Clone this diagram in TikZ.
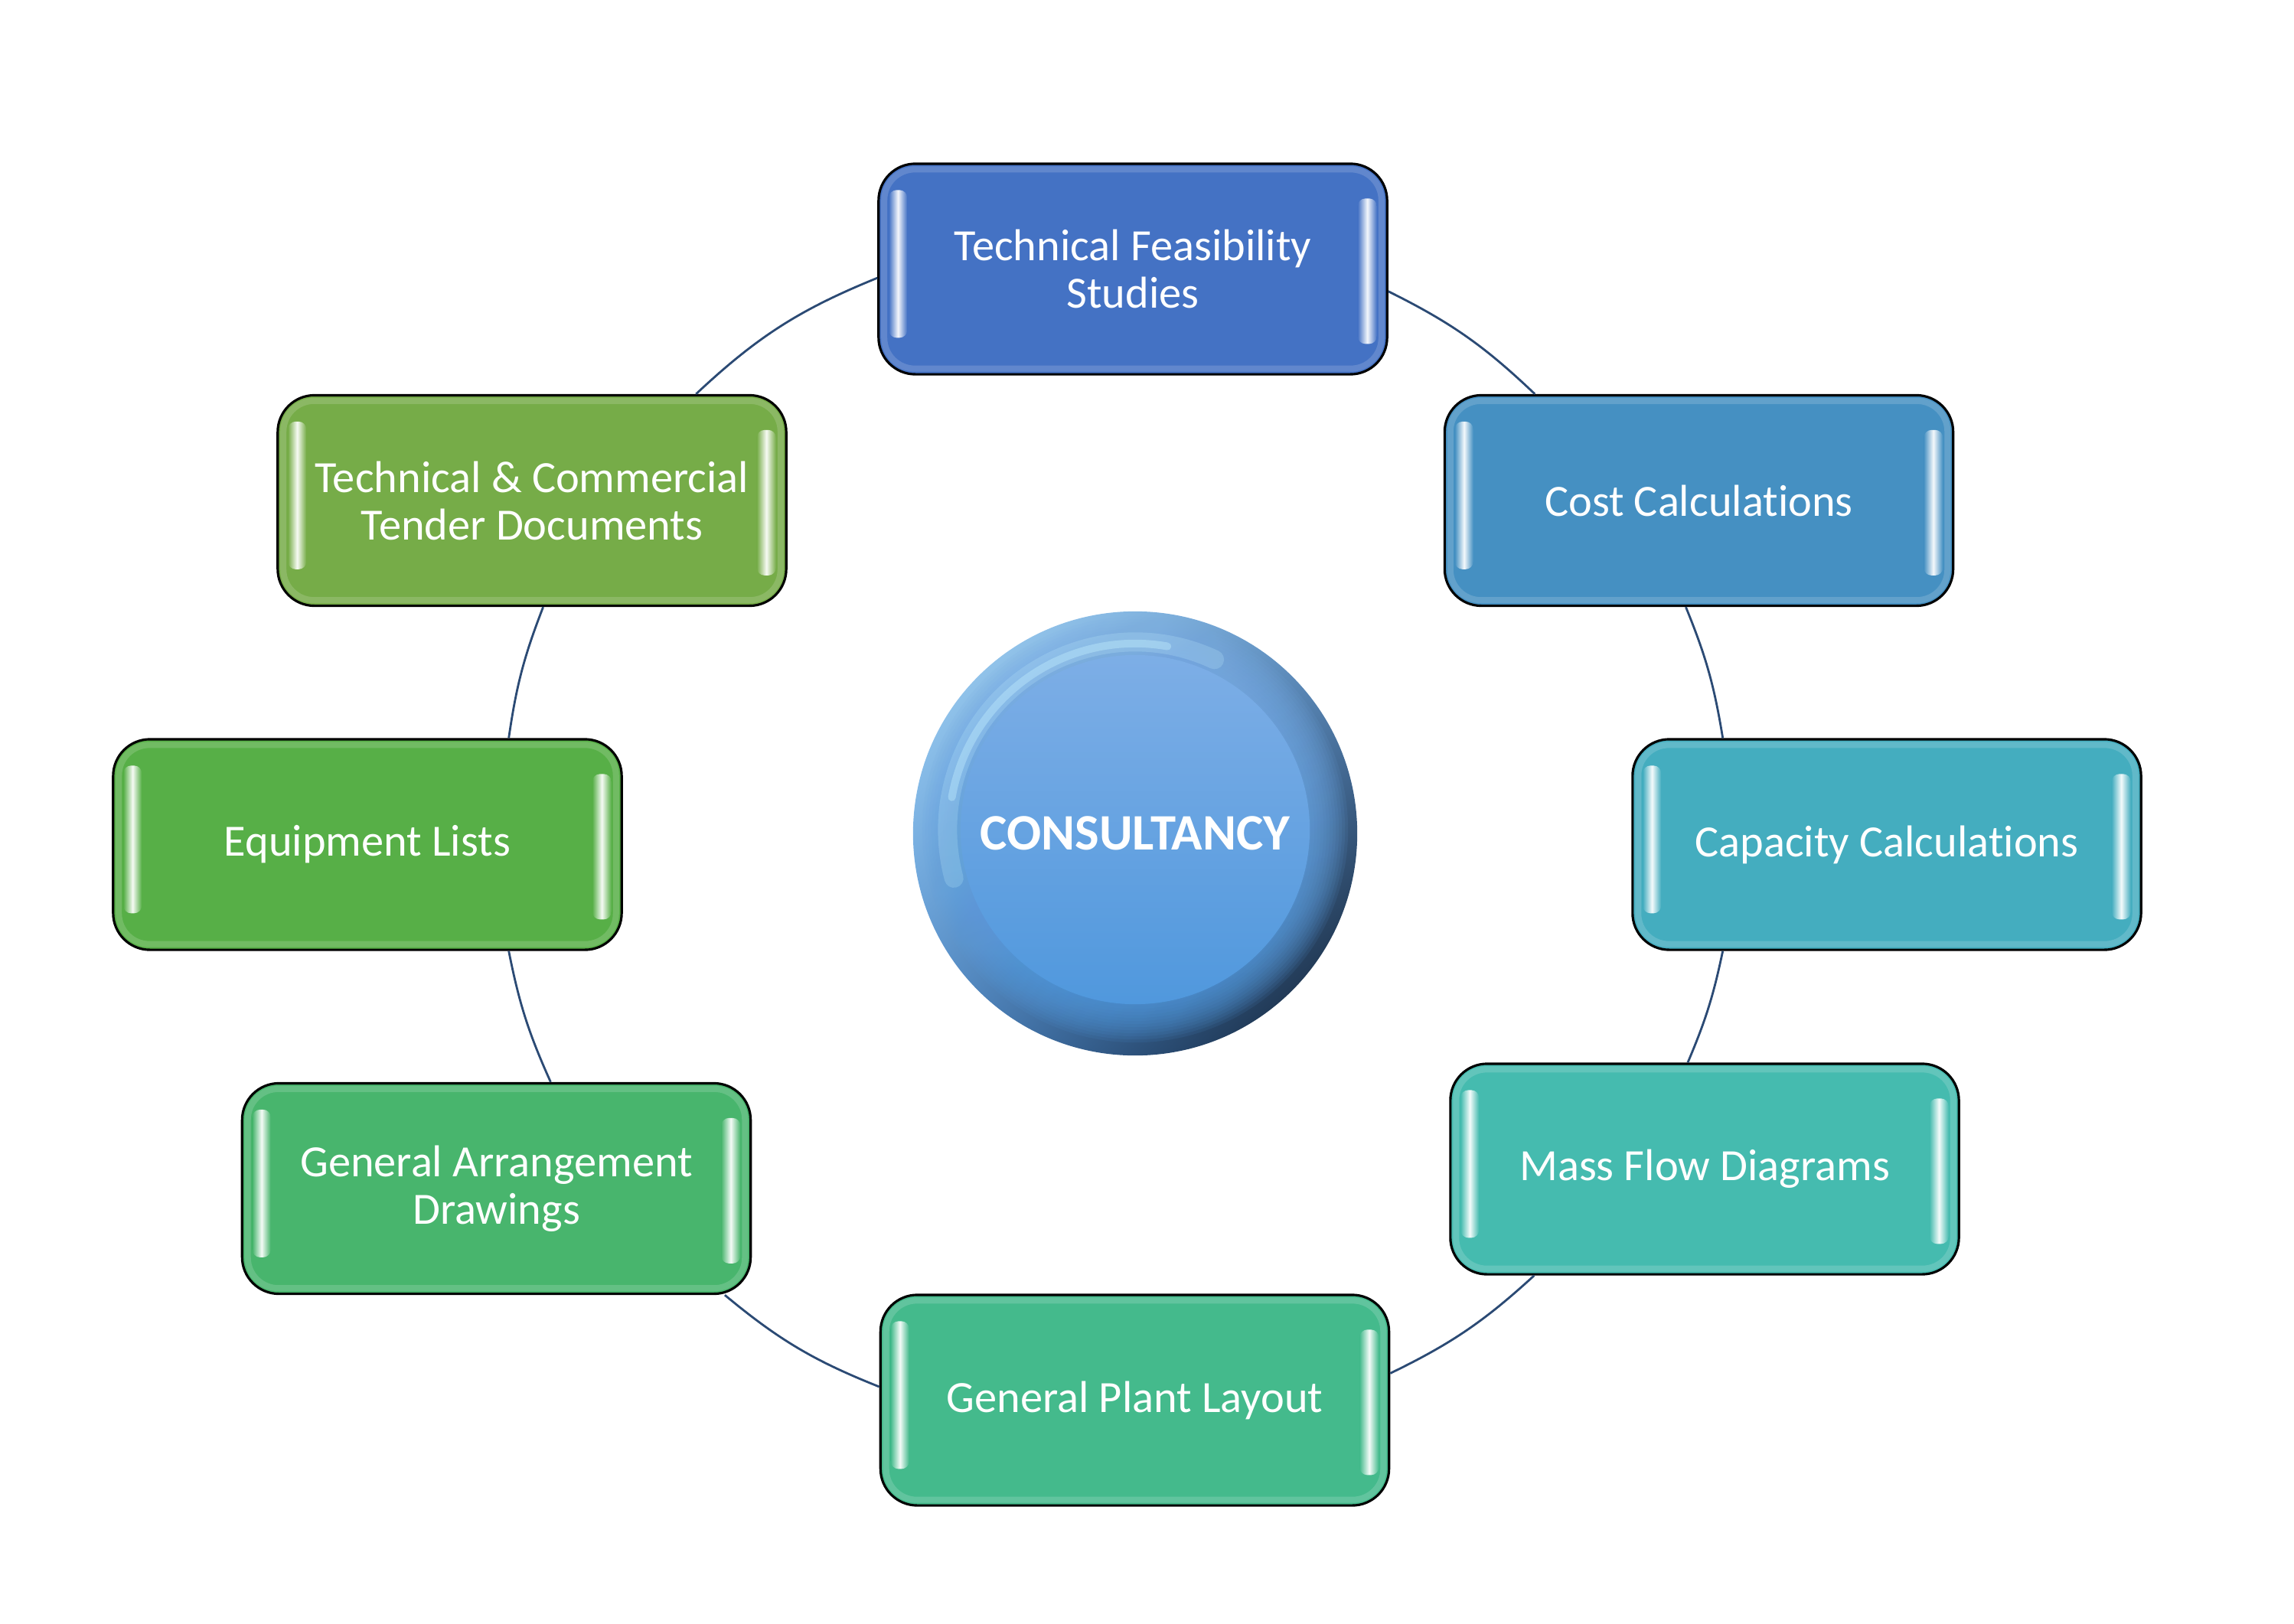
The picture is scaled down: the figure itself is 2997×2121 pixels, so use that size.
\documentclass[tikz,border=0pt]{standalone}
\usepackage{fontspec}
\setmainfont{Carlito}[Ligatures=NoCommon]
\usetikzlibrary{calc,shadings}

\definecolor{feascol}{HTML}{4472C4}
\definecolor{costcol}{HTML}{4590C2}
\definecolor{capcol}{HTML}{44ADBF}
\definecolor{masscol}{HTML}{45BBAF}
\definecolor{plantcol}{HTML}{44BA8C}
\definecolor{gadcol}{HTML}{48B56D}
\definecolor{equipcol}{HTML}{57AF47}
\definecolor{tendercol}{HTML}{76AC48}
\definecolor{linkcol}{HTML}{2B4A74}
\definecolor{hubhi}{HTML}{A9DAFB}
\definecolor{hubtr}{HTML}{5D90C6}
\definecolor{hubbl}{HTML}{4C88C9}
\definecolor{hubdark}{HTML}{0D1A2C}
\definecolor{hubtop}{HTML}{7DAEE6}
\definecolor{hubbot}{HTML}{5098DD}
\definecolor{hubglint}{HTML}{C4F0FF}

\newcommand\glossbars{}
\def\glossbars#1#2{
  \draw[color=#2!55!white, opacity=.35, line width=0.8mm, rounded corners=4mm]
    ($(#1.north west)+(9,9)$) rectangle ($(#1.south east)+(-9,-9)$);
  \shade[left color=#2, right color=#2, middle color=#2!6!white, rounded corners=1mm]
    ($(#1.north west)+(15,36)$) rectangle ($(#1.north west)+(39,229)$);
  \shade[left color=#2, right color=#2, middle color=#2!6!white, rounded corners=1mm]
    ($(#1.north east)+(-40,47)$) rectangle ($(#1.north east)+(-15,237)$);
}

\tikzset{
  stagebox/.style={rectangle, rounded corners=4.8mm, draw=black, line width=0.9pt,
    fill=#1, minimum width=6.64cm, minimum height=2.75cm, inner sep=0pt,
    text=white, align=center, font=\fontsize{16.6}{17.6}\selectfont},
  link/.style={draw=linkcol, line width=0.8pt},
  hubdisc/.style={circle, minimum size=5.8cm, inner sep=0pt, text=white,
    font=\fontsize{19}{21}\selectfont\bfseries,
    path picture={
      \shade[upper left=hubhi, upper right=hubtr, lower left=hubbl, lower right=hubdark]
        (path picture bounding box.south west) rectangle (path picture bounding box.north east);
      \foreach \r in {2.78,2.74,...,2.30}
        \shade[top color=hubtop, bottom color=hubbot, opacity=.11]
          ([yshift=.05cm]path picture bounding box.center) circle[radius=\r cm];
      \draw[color=hubglint, line width=2.5mm, opacity=.22, line cap=round]
        ([yshift=.05cm]path picture bounding box.center) ++(65:2.45cm)
        arc[start angle=65, end angle=195, radius=2.45cm];
      \draw[color=hubglint, line width=1mm, opacity=.4, line cap=round]
        ([yshift=.05cm]path picture bounding box.center) ++(80:2.43cm)
        arc[start angle=80, end angle=170, radius=2.43cm];
      \shade[top color=hubtop, bottom color=hubbot]
        ([yshift=.05cm]path picture bounding box.center) circle[radius=2.28cm];
    }}
}

\begin{document}
\begin{tikzpicture}[x=0.01cm, y=-0.01cm]

\useasboundingbox (0,0) rectangle (2997,2121);

% Service boxes round the hub
\node[stagebox=feascol] (feas) at (1480,351.5) {Technical Feasibility\\Studies};
\glossbars{feas}{feascol}
\node[stagebox=costcol] (cost) at (2219.5,654) {Cost Calculations};
\glossbars{cost}{costcol}
\node[stagebox=capcol] (cap) at (2465,1103.5) {Capacity Calculations};
\glossbars{cap}{capcol}
\node[stagebox=masscol] (mass) at (2227,1527.5) {Mass Flow Diagrams};
\glossbars{mass}{masscol}
\node[stagebox=plantcol] (plant) at (1482.5,1829.5) {General Plant Layout};
\glossbars{plant}{plantcol}
\node[stagebox=gadcol] (gad) at (648.5,1553) {General Arrangement\\Drawings};
\glossbars{gad}{gadcol}
\node[stagebox=equipcol] (equip) at (480,1103.5) {Equipment Lists};
\glossbars{equip}{equipcol}
\node[stagebox=tendercol] (tender) at (695,654) {Technical \& Commercial\\Tender Documents};
\glossbars{tender}{tendercol}

% Ring connectors
\foreach \from/\to/\bend in
{
  feas.-5.8/cost.147/8.6, cost.-97/cap.147/6.5, cap.-147/mass.99/5.6,
  mass.-148.6/plant.6.5/8.3, plant.177.5/gad.-25.4/9, gad.63/equip.-37/6.5,
  equip.37.6/tender.-84/6.5, tender.33/feas.182/10.5
}
{
  \draw[link] (\from) to[bend left=\bend] (\to);
}

% Hub
\node[hubdisc] (hub) at (1483,1089) {CONSULTANCY};

\end{tikzpicture}
\end{document}
